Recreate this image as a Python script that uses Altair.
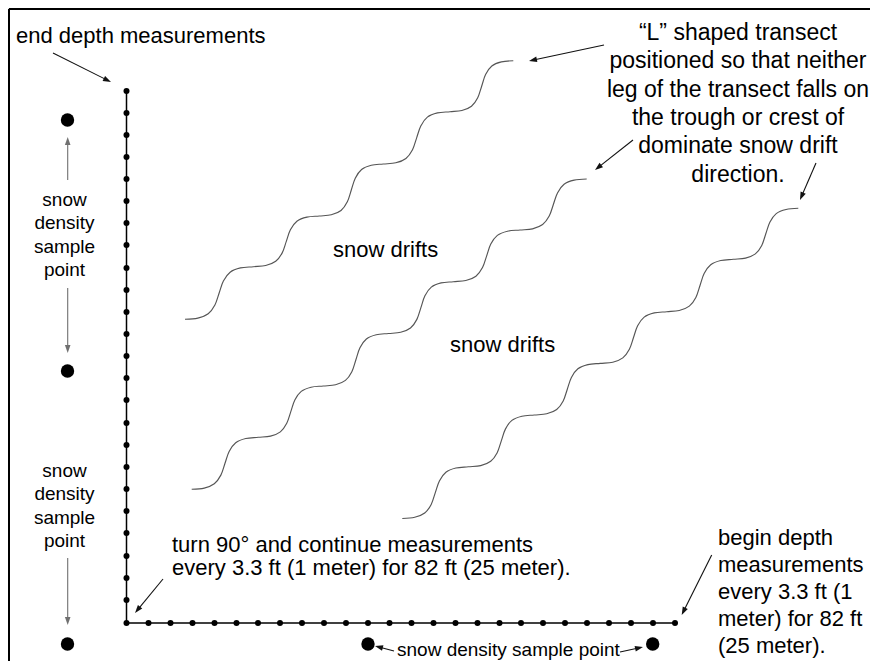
import math
import altair as alt
import pandas as pd

# ---------------- values (image pixel units) ----------------
W, H = 862, 653          # drawing area (image x 8..870, y 8..661)
X0, Y0 = 8, 8

# "L" transect: depth measurement points
leg_bottom_x = [126.5, 148.5, 170.5, 192.5, 214.5, 236.5, 258, 280, 302, 324, 346, 368, 389.5,
                411.5, 433.5, 455.5, 477.5, 499.5, 521, 543, 565, 587, 609, 631, 653, 675]
leg_bottom_y = 623
leg_left_y = [91, 113, 135, 157, 179, 201, 223, 245, 268, 290, 312, 334, 356, 378,
              400, 423, 445, 467, 489, 511, 533, 556, 578, 600]
leg_left_x = 126.5

# snow density sample points
density_x = [67.5, 67.5, 67.5, 368, 652.7]
density_y = [120, 371, 644, 644, 644]

# snow drift curves: flat (horizontal tangent) points along each drift
drift1 = [(185, 319.3), (253.3, 266.7), (319.3, 216), (383.3, 164), (450, 111.7), (513.3, 60.7)]
drift2 = [(191.7, 489.3), (258.3, 437.3), (323.3, 386), (388.5, 333.5), (453.3, 281.7),
          (520, 230), (586.7, 179)]
drift3 = [(402.3, 518.5), (468.3, 466.8), (534.3, 415), (600.3, 363.4), (666.7, 311.7),
          (733.3, 259.3), (798.3, 208.3)]
# one wave period of a drift, as offsets from its flat point (period 66 x -51.7)
wave_period = (66.0, -51.7)
wave_shape = [(0, 0), (12.4, -1.2), (22.4, -5.5), (28.9, -14.1), (33, -25.85),
              (37.1, -37.6), (43.6, -46.3), (53.6, -50.5)]

# arrows: tail -> tip
arrow_x = [53, 67.7, 67.7, 67.7, 163, 711.7, 604, 633, 816, 394, 620]
arrow_y = [53, 180, 288, 558, 579, 555, 45, 140, 163, 651, 652]
arrow_x2 = [111, 67.7, 67.7, 67.7, 135, 681.7, 529, 595, 800, 375, 643]
arrow_y2 = [82, 137, 353, 625, 613, 615, 61, 170, 200, 646, 647]
arrow_col = ["#111", "#707070", "#707070", "#707070", "#111", "#111", "#111", "#111", "#111", "#111", "#111"]

# texts
txt_end = "end depth measurements"
txt_drifts = "snow drifts"
txt_density = ["snow", "density", "sample", "point"]
txt_L = ["\u201cL\u201d shaped transect", "positioned so that neither", "leg of the transect falls on",
         "the trough or crest of", "dominate snow drift", "direction."]
txt_turn = ["turn 90\u00b0 and continue measurements", "every 3.3 ft (1 meter) for 82 ft (25 meter)."]
txt_begin = ["begin depth", "measurements", "every 3.3 ft (1", "meter) for 82 ft", "(25 meter)."]
txt_bottom = "snow density sample point"

FONT = "Liberation Sans"

# ---------------- build tables ----------------
xs = alt.Scale(domain=[X0, X0 + W], range=[0, W], nice=False, zero=False)
ys = alt.Scale(domain=[Y0, Y0 + H], range=[0, H], nice=False, zero=False)
X = lambda f: alt.X(f, type="quantitative", scale=xs, axis=None)
Y = lambda f: alt.Y(f, type="quantitative", scale=ys, axis=None)

frame = pd.DataFrame({"x": [9, 9], "y": [9, 9], "x2": [878, 9], "y2": [9, 669]})

legs = pd.DataFrame({
    "x": [leg_left_x, leg_left_x], "y": [min(leg_left_y), leg_bottom_y],
    "x2": [leg_left_x, max(leg_bottom_x)], "y2": [leg_bottom_y, leg_bottom_y]})

dots = pd.DataFrame({
    "x": leg_bottom_x + [leg_left_x] * len(leg_left_y),
    "y": [leg_bottom_y] * len(leg_bottom_x) + leg_left_y})

dens = pd.DataFrame({"x": density_x, "y": density_y})

rows = []
for ci, flats in enumerate([drift1, drift2, drift3]):
    k = 0
    for i in range(len(flats) - 1):
        fx, fy = flats[i]
        nx, ny = flats[i + 1]
        sx = (nx - fx) / wave_period[0]
        sy = (ny - fy) / wave_period[1]
        for ox, oy in wave_shape:
            rows.append({"c": ci, "o": k, "x": fx + ox * sx, "y": fy + oy * sy})
            k += 1
    rows.append({"c": ci, "o": k, "x": flats[-1][0], "y": flats[-1][1]})
drifts = pd.DataFrame(rows)

HEAD = 8.0
arows = []
for x, y, x2, y2, col in zip(arrow_x, arrow_y, arrow_x2, arrow_y2, arrow_col):
    dx, dy = x2 - x, y2 - y
    L = math.hypot(dx, dy)
    ux, uy = dx / L, dy / L
    ang = (math.degrees(math.atan2(dx, -dy)) + 360) % 360
    arows.append({"x": x, "y": y, "bx": x2 - ux * (HEAD - 1), "by": y2 - uy * (HEAD - 1),
                  "tx": x2, "ty": y2, "ang": ang, "col": col})
arrows = pd.DataFrame(arows)

t_left22 = pd.DataFrame(
    [{"t": txt_end, "x": 16, "y": 43},
     {"t": txt_drifts, "x": 333, "y": 256.7},
     {"t": txt_drifts, "x": 450, "y": 351.7}]
    + [{"t": s, "x": 172, "y": yy} for s, yy in zip(txt_turn, [551.7, 575])]
    + [{"t": s, "x": 718, "y": yy} for s, yy in zip(txt_begin, [545, 572, 599, 626, 653])])
t_dens = pd.DataFrame(
    [{"t": s, "x": 64.5, "y": yy} for s, yy in zip(txt_density, [206, 229.3, 252.6, 276])]
    + [{"t": s, "x": 64.5, "y": yy} for s, yy in zip(txt_density, [477, 500.3, 523.6, 547])])
t_L = pd.DataFrame([{"t": s, "x": 738, "y": yy}
                    for s, yy in zip(txt_L, [40, 68.3, 96.6, 124.9, 153.2, 181.5])])
t_bot = pd.DataFrame([{"t": txt_bottom, "x": 397, "y": 656}])

# ---------------- layers ----------------
frame_l = alt.Chart(frame).mark_rule(color="black", strokeWidth=2).encode(
    x=X("x"), y=Y("y"), x2="x2", y2="y2")
legs_l = alt.Chart(legs).mark_rule(color="black", strokeWidth=1.5).encode(
    x=X("x"), y=Y("y"), x2="x2", y2="y2")
dots_l = alt.Chart(dots).mark_circle(color="black", size=36, opacity=1).encode(x=X("x"), y=Y("y"))
dens_l = alt.Chart(dens).mark_circle(color="black", size=180, opacity=1).encode(x=X("x"), y=Y("y"))
drift_l = alt.Chart(drifts).mark_line(interpolate="cardinal", color="#555555", strokeWidth=1.15).encode(
    x=X("x"), y=Y("y"), detail="c:N", order="o:Q")
arrow_l = alt.Chart(arrows).mark_rule(strokeWidth=1.1).encode(
    x=X("x"), y=Y("y"), x2="bx", y2="by", color=alt.Color("col:N", scale=None))
head_l = alt.Chart(arrows).mark_point(shape="M0,0L0.7,2L-0.7,2Z", size=64, filled=True,
                                      opacity=1, strokeWidth=0).encode(
    x=X("tx"), y=Y("ty"), angle=alt.Angle("ang:Q", scale=None), color=alt.Color("col:N", scale=None))

def text_layer(df, align, size):
    return alt.Chart(df).mark_text(align=align, baseline="alphabetic", font=FONT, fontSize=size,
                                   color="black").encode(x=X("x"), y=Y("y"), text="t:N")

chart = alt.layer(
    frame_l, drift_l, legs_l, dots_l, dens_l, arrow_l, head_l,
    text_layer(t_left22, "left", 22),
    text_layer(t_dens, "center", 19),
    text_layer(t_L, "center", 23),
    text_layer(t_bot, "left", 19),
).properties(width=W, height=H, padding=0, autosize=alt.AutoSizeParams(type="none")
).configure_view(stroke=None).configure(background="white")

chart.save("out.html", embed_options={"renderer": "svg", "actions": False})
